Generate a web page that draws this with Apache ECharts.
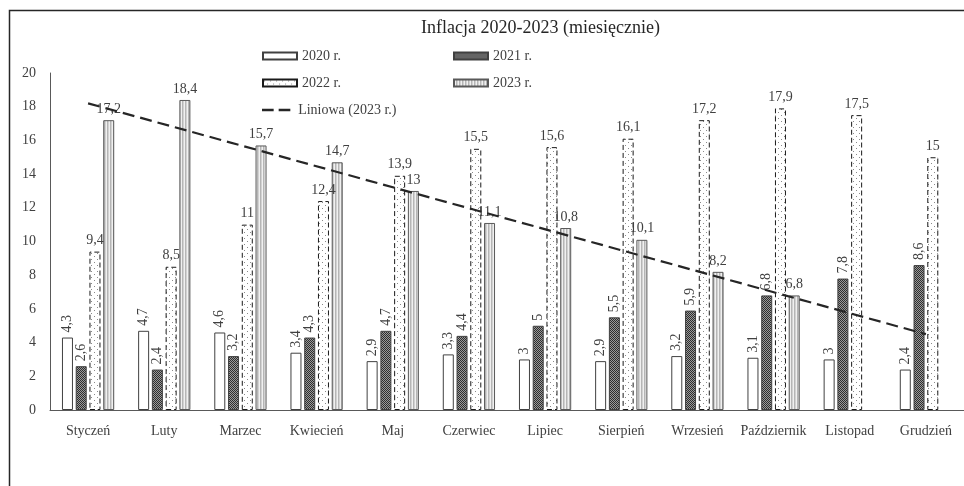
<!DOCTYPE html>
<html><head><meta charset="utf-8">
<script src="https://cdn.jsdelivr.net/npm/echarts/dist/echarts.min.js"></script>
<style>html,body{margin:0;padding:0;background:#fff}#c{width:964px;height:486px}</style>
</head><body><div id="c"></div><script>
const categories = ['Styczeń','Luty','Marzec','Kwiecień','Maj','Czerwiec','Lipiec','Sierpień','Wrzesień','Październik','Listopad','Grudzień'];
const y2020 = [4.3,4.7,4.6,3.4,2.9,3.3,3,2.9,3.2,3.1,3,2.4];
const y2021 = [2.6,2.4,3.2,4.3,4.7,4.4,5,5.5,5.9,6.8,7.8,8.6];
const y2022 = [9.4,8.5,11,12.4,13.9,15.5,15.6,16.1,17.2,17.9,17.5,15];
const y2023 = [17.2,18.4,15.7,14.7,13,11.1,10.8,10.1,8.2,6.8,null,null];
// linear trend of 2023 (at its two ends)
const trend2023 = [18.2,null,null,null,null,null,null,null,null,null,null,4.5];
const seriesNames = ['2020 r.','2021 r.','2022 r.','2023 r.','Liniowa (2023 r.)'];
const titleText = 'Inflacja 2020-2023 (miesięcznie)';

const FONT = '"Liberation Serif","Times New Roman",serif';
const TXT = '#404040';

function pat(w,h,draw){const c=document.createElement('canvas');c.width=w;c.height=h;const x=c.getContext('2d');draw(x);return {image:c,repeat:'repeat'};}
const p2021 = pat(2,2,x=>{x.fillStyle='#9a9a9a';x.fillRect(0,0,2,2);x.fillStyle='#2e2e2e';x.fillRect(0,0,1,1);x.fillRect(1,1,1,1);});
const p2022 = pat(6,6,x=>{x.fillStyle='#ffffff';x.fillRect(0,0,6,6);x.fillStyle='#8a8a8a';x.fillRect(1,1,1,1);x.fillRect(4,4,1,1);});
const p2023 = pat(3,1,x=>{x.fillStyle='#d2d2d2';x.fillRect(0,0,1,1);x.fillStyle='#f0f0f0';x.fillRect(1,0,1,1);x.fillStyle='#b5b5b5';x.fillRect(2,0,1,1);});

const fmt = p => (p.value==null?'':String(p.value).replace('.',','));
const vLabel = {show:true, position:'top', rotate:90, align:'left', verticalAlign:'middle', distance:5, formatter:fmt, fontFamily:FONT, fontSize:14, color:TXT};
const hLabel = {show:true, position:'top', distance:4, formatter:fmt, fontFamily:FONT, fontSize:14, color:TXT};

const barCommon = {type:'bar', barWidth:11, barGap:'25%'};

function leg(name, left, top){
  return {data:[name], left:left, top:top, padding:0, itemWidth:34, itemHeight:7, icon:'rect',
    textStyle:{fontFamily:FONT, fontSize:14, color:TXT}};
}
const lineLegend = {data:[{name:seriesNames[4], icon:'path://M0,0H14V3H0Z M20,0H34V3H20Z', itemStyle:{color:'#262626', borderWidth:0}}],
  left:262, top:103, padding:0, itemWidth:34, itemHeight:2.5,
  textStyle:{fontFamily:FONT, fontSize:14, color:TXT}};

const chart = echarts.init(document.getElementById('c'), null, {renderer:'canvas'});
chart.setOption({
  animation:false,
  backgroundColor:'#ffffff',
  title:{text:titleText, left:421, top:19, padding:0, textStyle:{fontFamily:FONT, fontSize:18, fontWeight:'normal', color:'#262626'}},
  graphic:[{type:'rect', shape:{x:9.5,y:10.5,width:1000,height:520}, style:{fill:'none', stroke:'#262626', lineWidth:1.5}, silent:true, z:-1}],
  legend:[
    leg(seriesNames[0],262,49),
    leg(seriesNames[1],453,49),
    leg(seriesNames[2],262,76),
    leg(seriesNames[3],453,76),
    lineLegend
  ],
  grid:{left:50, top:73, width:918, height:337, containLabel:false},
  xAxis:{type:'category', data:categories,
    axisLine:{lineStyle:{color:'#595959', width:1}}, axisTick:{show:false},
    axisLabel:{margin:14, interval:0, fontFamily:FONT, fontSize:14, color:TXT}},
  yAxis:{type:'value', min:0, max:20, interval:2,
    axisLine:{show:true, lineStyle:{color:'#595959', width:1}}, axisTick:{show:false}, splitLine:{show:false},
    axisLabel:{margin:14, fontFamily:FONT, fontSize:14, color:TXT}},
  series:[
    Object.assign({name:seriesNames[0], data:y2020, itemStyle:{color:'#ffffff', borderColor:'#404040', borderWidth:1}, label:vLabel}, barCommon),
    Object.assign({name:seriesNames[1], data:y2021, itemStyle:{color:p2021, borderColor:'#404040', borderWidth:1}, label:vLabel}, barCommon),
    Object.assign({name:seriesNames[2], data:y2022, itemStyle:{color:p2022, borderColor:'#1a1a1a', borderWidth:1, borderType:[5,3]}, label:hLabel}, barCommon),
    Object.assign({name:seriesNames[3], data:y2023, itemStyle:{color:p2023, borderColor:'#595959', borderWidth:1}, label:hLabel}, barCommon),
    {name:seriesNames[4], type:'line', data:trend2023, connectNulls:true, symbol:'none', showSymbol:false,
      lineStyle:{color:'#262626', width:2.2, type:[12,6]}, itemStyle:{color:'#262626'}, z:5}
  ]
});
</script></body></html>
